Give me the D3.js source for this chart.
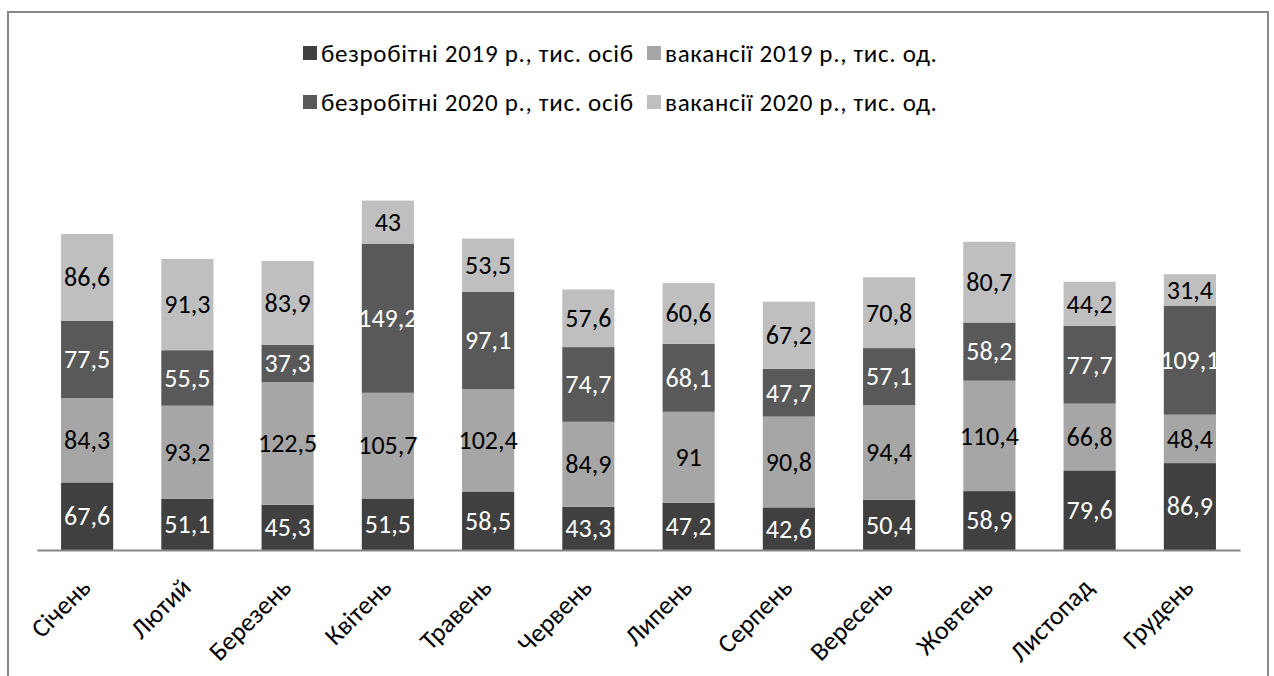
<!DOCTYPE html>
<html><head><meta charset="utf-8">
<script src="https://cdn.jsdelivr.net/npm/d3@7"></script>
<style>
body{margin:0;background:#fff;}
svg text{font-family:"Carlito","Liberation Sans Narrow","Liberation Sans",sans-serif;}
</style></head>
<body>
<svg id="c" width="1274" height="676"></svg>
<script>
const months = ["Січень","Лютий","Березень","Квітень","Травень","Червень","Липень","Серпень","Вересень","Жовтень","Листопад","Грудень"];
const unemployed2019 = [67.6,51.1,45.3,51.5,58.5,43.3,47.2,42.6,50.4,58.9,79.6,86.9];
const vacancies2019 = [84.3,93.2,122.5,105.7,102.4,84.9,91,90.8,94.4,110.4,66.8,48.4];
const unemployed2020 = [77.5,55.5,37.3,149.2,97.1,74.7,68.1,47.7,57.1,58.2,77.7,109.1];
const vacancies2020 = [86.6,91.3,83.9,43,53.5,57.6,60.6,67.2,70.8,80.7,44.2,31.4];
const seriesNames = ["безробітні 2019 р., тис. осіб","вакансії 2019 р., тис. од.","безробітні 2020 р., тис. осіб","вакансії 2020 р., тис. од."];

const colors = ["#404040","#a6a6a6","#595959","#bfbfbf"];
const labelColors = ["#ffffff","#000000","#ffffff","#000000"];
const keys = ["u19","v19","u20","v20"];
const values = [unemployed2019, vacancies2019, unemployed2020, vacancies2020];

const rows = months.map((m,i)=>{
  const r = {month:m};
  keys.forEach((k,ki)=>{ r[k] = values[ki][i]; });
  return r;
});
const stacked = d3.stack().keys(keys)(rows);

const svg = d3.select("#c");
// frame
svg.append("rect").attr("x",8).attr("y",12).attr("width",1260).attr("height",700)
  .attr("fill","none").attr("stroke","#898989").attr("stroke-width",2);

const x = d3.scaleBand().domain(months).range([37,1240]).paddingInner(0.48).paddingOuter(0.24);
const y = d3.scaleLinear().domain([0,400]).range([550,150]);
const fmt = v => String(v).replace(".",",");

const g = svg.append("g");
stacked.forEach((s,si)=>{
  const grp = g.append("g");
  grp.selectAll("rect").data(s).enter().append("rect")
    .attr("x",d=>x(d.data.month)).attr("width",x.bandwidth())
    .attr("y",d=>y(d[1])).attr("height",d=>y(d[0])-y(d[1]))
    .attr("fill",colors[si]);
});
stacked.forEach((s,si)=>{
  const grp = g.append("g");
  grp.selectAll("text").data(s).enter().append("text")
    .attr("x",d=>x(d.data.month)+x.bandwidth()/2)
    .attr("y",d=>(y(d[0])+y(d[1]))/2)
    .attr("dy","0.34em").attr("text-anchor","middle")
    .attr("font-size",26).attr("fill",labelColors[si])
    .text(d=>fmt(d.data[keys[si]]));
});

// x axis
const xAxis = d3.axisBottom(x).tickSize(0).tickPadding(0);
const ax = svg.append("g").attr("transform","translate(0,550)").call(xAxis);
ax.select(".domain").attr("stroke","#868686").attr("stroke-width",2);
ax.selectAll("text").attr("font-size",26).attr("fill","#000")
  .attr("text-anchor","end")
  .attr("transform","translate(5,39) rotate(-45)")
  .attr("dy",0).attr("y",0).attr("x",0);

// legend
const legendPos = [[303,53],[647,53],[303,102],[647,102]];
seriesNames.forEach((n,i)=>{
  const lg = svg.append("g").attr("transform",`translate(${legendPos[i][0]},${legendPos[i][1]})`);
  lg.append("rect").attr("x",0).attr("y",-7).attr("width",14).attr("height",14).attr("fill",colors[i]);
  lg.append("text").attr("x",18).attr("y",0).attr("dy","0.34em").attr("font-size",25)
    .attr("letter-spacing","0.7px").attr("fill","#000").text(n);
});
</script>
</body></html>
